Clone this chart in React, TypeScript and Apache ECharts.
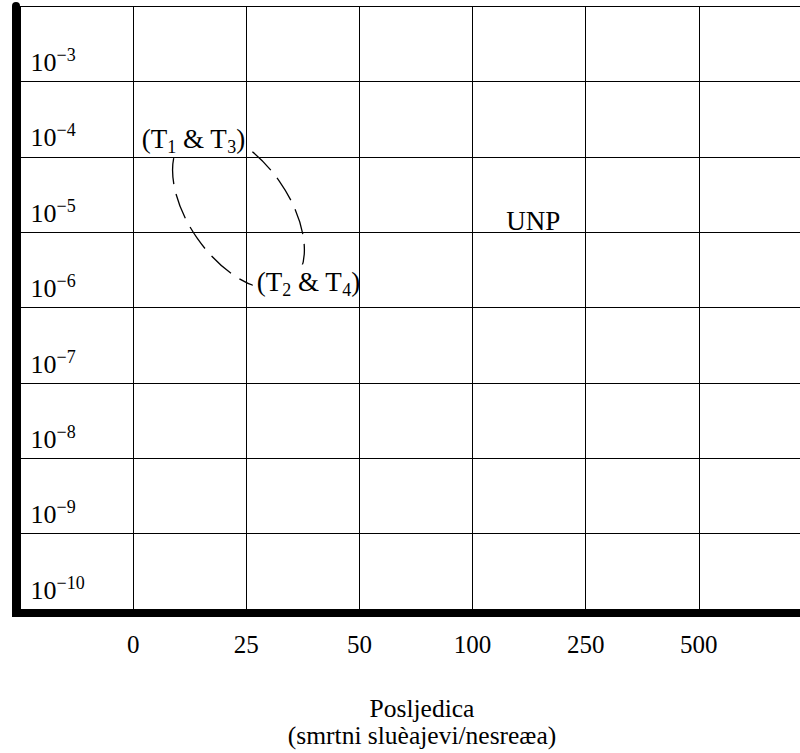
import React, { useEffect, useRef } from "react";
import * as echarts from "echarts";

// Consequence classes (x) and frequency exponents (y)
const X_LABELS = ["0", "25", "50", "100", "250", "500"];
const X_LABEL_POS = [1, 2, 3, 4, 5, 6];
const Y_EXPONENTS = ["−10", "−9", "−8", "−7", "−6", "−5", "−4", "−3"];

// Dashed ellipse: major-axis end points [x1, y1, x2, y2] in grid units, minor semi-axis in column units
const ELLIPSE_AXIS = [1.475, 6.271, 2.387, 4.316];
const ELLIPSE_MINOR = 0.442;

// Annotations
const NOTE_TEXT = [
  "{m|(T}{s|1}{m| & T}{s|3}{m|)}",
  "{m|(T}{s|2}{m| & T}{s|4}{m|)}",
  "{m|UNP}",
];
const NOTE_X = [1.049, 2.057, 4.298];
const NOTE_Y = [6.259, 4.313, 5.149];

const FONT = "'Liberation Serif', 'Times New Roman', Times, serif";

export default function App() {
  const ref = useRef<HTMLDivElement>(null);

  useEffect(() => {
    if (!ref.current) return;
    const chart = echarts.init(ref.current, undefined, { renderer: "svg" });
    const notePad = [
      [4, 3, 1, 3],
      [0, 2, 4, 4],
      [0, 0, 0, 0],
    ];
    const option: any = {
      animation: false,
      backgroundColor: "#fff",
      grid: {
        left: 20,
        top: 6,
        right: -12,
        bottom: 144,
        containLabel: false,
        outerBoundsMode: "none",
      },
      xAxis: {
        type: "value",
        min: 0,
        max: 7,
        interval: 1,
        position: "bottom",
        offset: 4,
        axisLine: { show: true, onZero: false, lineStyle: { color: "#000", width: 8 } },
        axisTick: { show: false },
        splitLine: { show: true, lineStyle: { color: "#000", width: 1 } },
        axisLabel: {
          margin: 19,
          fontFamily: FONT,
          fontSize: 25,
          lineHeight: 25,
          color: "#000",
          formatter: (v: number) => {
            const i = X_LABEL_POS.indexOf(v);
            return i >= 0 ? X_LABELS[i] : "";
          },
        },
        name: "Posljedica\n(smrtni sluèajevi/nesreæa)",
        nameLocation: "middle",
        nameGap: 82,
        nameTextStyle: {
          fontFamily: FONT,
          fontSize: 25.5,
          lineHeight: 27,
          padding: [0, 0, 0, 12],
          color: "#000",
        },
      },
      yAxis: {
        type: "value",
        min: 0,
        max: 8,
        interval: 1,
        position: "left",
        offset: 4,
        axisLine: { show: true, onZero: false, lineStyle: { color: "#000", width: 8 } },
        axisTick: { show: false },
        splitLine: { show: true, lineStyle: { color: "#000", width: 1 } },
        axisLabel: {
          inside: true,
          margin: 14.5,
          align: "left",
          verticalAlign: "bottom",
          padding: [0, 0, 2.3, 0],
          color: "#000",
          formatter: (v: number) =>
            v < Y_EXPONENTS.length ? `{b|10}{s|${Y_EXPONENTS[v]}}` : "",
          rich: {
            b: { fontFamily: FONT, fontSize: 26, lineHeight: 33, color: "#000" },
            s: {
              fontFamily: FONT,
              fontSize: 18,
              lineHeight: 18,
              verticalAlign: "top",
              color: "#000",
            },
          },
        },
      },
      graphic: [
        {
          type: "rect",
          shape: { x: 12, y: 605, width: 8, height: 12 },
          style: { fill: "#000" },
          z: 10,
        },
      ],
      series: [
        {
          type: "custom",
          z: -2,
          silent: true,
          data: [ELLIPSE_AXIS],
          renderItem: (params: any, api: any) => {
            const a = api.coord([api.value(0), api.value(1)]);
            const b = api.coord([api.value(2), api.value(3)]);
            const cx = (a[0] + b[0]) / 2;
            const cy = (a[1] + b[1]) / 2;
            const rx = Math.hypot(b[0] - a[0], b[1] - a[1]) / 2;
            const ry = api.size([ELLIPSE_MINOR, 0])[0];
            const ang = Math.atan2(b[1] - a[1], b[0] - a[0]);
            return {
              type: "ellipse",
              x: cx,
              y: cy,
              rotation: -ang,
              shape: { cx: 0, cy: 0, rx, ry },
              style: {
                fill: "none",
                stroke: "#000",
                lineWidth: 1.3,
                lineDash: [26, 10],
              },
            };
          },
        },
        {
          type: "custom",
          z: -1,
          silent: true,
          data: NOTE_X.map((x, i) => [x, NOTE_Y[i]]),
          renderItem: (params: any, api: any) => {
            const i = params.dataIndex;
            const p = api.coord([api.value(0), api.value(1)]);
            return {
              type: "text",
              x: p[0],
              y: p[1],
              style: {
                text: NOTE_TEXT[i],
                align: "left",
                verticalAlign: "middle",
                backgroundColor: i < 2 ? "#fff" : "transparent",
                padding: notePad[i],
                rich: {
                  m: { fontFamily: FONT, fontSize: 27, lineHeight: 35, fill: "#000", color: "#000" },
                  s: {
                    fontFamily: FONT,
                    fontSize: 18,
                    lineHeight: 18,
                    verticalAlign: "bottom",
                    fill: "#000",
                    color: "#000",
                  },
                },
              },
            };
          },
        },
      ],
    };
    chart.setOption(option);
    return () => chart.dispose();
  }, []);

  return (
    <div
      ref={ref}
      style={{ position: "absolute", left: 0, top: 0, width: 800, height: 753 }}
    />
  );
}
